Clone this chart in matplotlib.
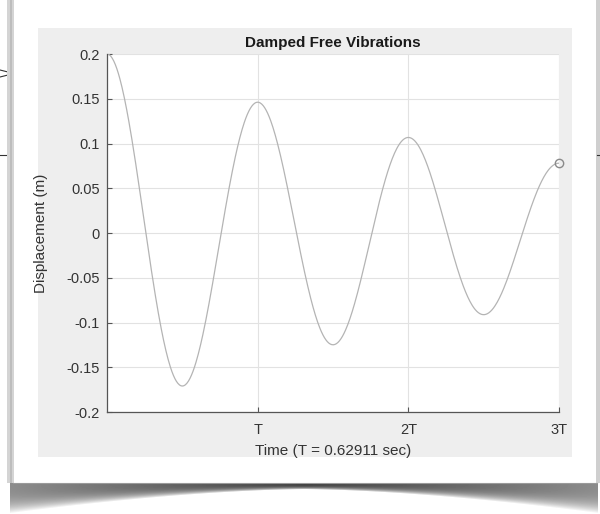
import numpy as np
import matplotlib
matplotlib.use("Agg")
import matplotlib.pyplot as plt
from matplotlib.patches import Rectangle

plt.rcParams["font.family"] = ["Liberation Sans", "DejaVu Sans"]

# values
period = 0.62911                      # T (sec), from the x label
x0 = 0.2                              # initial displacement (m)
peak_values = [0.2, 0.145, 0.106, 0.078]   # maxima at 0, T, 2T, 3T
y_ticks = [-0.2, -0.15, -0.1, -0.05, 0, 0.05, 0.1, 0.15, 0.2]
y_tick_labels = ["-0.2", "-0.15", "-0.1", "-0.05", "0", "0.05", "0.1", "0.15", "0.2"]
x_tick_mult = [1, 2, 3]
x_tick_labels = ["T", "2T", "3T"]

# damped free response: decay per period taken from the read peaks
ratio = (peak_values[-1] / peak_values[0]) ** (1 / (len(peak_values) - 1))
delta = np.log(1 / ratio)
zeta = delta / np.sqrt(4 * np.pi ** 2 + delta ** 2)
wd = 2 * np.pi / period
wn = wd / np.sqrt(1 - zeta ** 2)
t = np.linspace(0, 3 * period, 600)
x = x0 * np.exp(-zeta * wn * t) * (np.cos(wd * t) + zeta * wn / wd * np.sin(wd * t))

W, H = 600, 514
fig = plt.figure(figsize=(W / 100, H / 100), dpi=100)
fig.patch.set_facecolor("white")

# background: paper, shadow and the grey figure panel (pixel coords)
bg = fig.add_axes([0, 0, 1, 1], zorder=-1)
bg.set_xlim(0, W)
bg.set_ylim(H, 0)
bg.axis("off")

# curled-paper shadow under the sheet
sx0, sx1, sy0 = 10, 598, 483
cols = np.arange(sx0, sx1)
rows = np.arange(0, H - sy0)
s = np.abs((cols - sx0) / (sx1 - sx0) - 0.5) * 2
thick = 6 + 24 * s ** 1.6
gray = 0.25 + 0.30 * s
dd = rows[:, None] / thick[None, :]
img = np.where(dd < 1, gray[None, :] + (1 - gray[None, :]) * np.clip(dd, 0, 1) ** 3, 1.0)
bg.imshow(img, cmap="gray", vmin=0, vmax=1, extent=(sx0, sx1, H, sy0),
          aspect="auto", interpolation="bilinear", zorder=0)

# paper sheet and its edges
bg.add_patch(Rectangle((13, 0), 584, sy0, facecolor="white", edgecolor="none", zorder=1))
bg.add_patch(Rectangle((7, 0), 7, sy0, facecolor="#d4d4d4", edgecolor="none", zorder=1))
bg.add_patch(Rectangle((9.5, 0), 2.5, sy0, facecolor="#bdbdbd", edgecolor="none", zorder=1))
bg.add_patch(Rectangle((596, 0), 4, sy0, facecolor="#cfcfcf", edgecolor="none", zorder=1))
bg.plot([13, 597], [sy0, sy0], color="#9a9a9a", lw=0.8, zorder=2)

# bits of diagram lines poking out from behind the sheet
bg.plot([0, 14], [70, 73.5], color="#333333", lw=0.8, zorder=0.5)
bg.plot([0, 14], [77, 73.5], color="#333333", lw=0.8, zorder=0.5)
bg.plot([0, 14], [155, 155], color="#333333", lw=0.8, zorder=0.5)
bg.plot([597, 600], [154.5, 154.5], color="#333333", lw=0.8, zorder=2)

# grey MATLAB figure panel
bg.add_patch(Rectangle((38, 28), 534, 429, facecolor="#eeeeee", edgecolor="none", zorder=3))

# main axes
ax = fig.add_axes([107 / W, 1 - 412 / H, 452 / W, 358 / H])
ax.set_facecolor("white")
ax.plot(t, x, color="#b4b4b4", lw=0.9)
ax.plot(t[-1], x[-1], "o", ms=6, mfc="none", mec="#8a8a8a", mew=1.0, clip_on=False)

ax.set_xlim(0, 3 * period)
ax.set_ylim(-0.2, 0.2)
ax.set_xticks([m * period for m in x_tick_mult])
ax.set_xticklabels(x_tick_labels)
ax.set_yticks(y_ticks)
ax.set_yticklabels(y_tick_labels)
ax.grid(True, color="#e2e2e2", lw=0.8)
ax.set_axisbelow(True)
for side in ["top", "right"]:
    ax.spines[side].set_visible(False)
for side in ["left", "bottom"]:
    ax.spines[side].set_color("#555555")
    ax.spines[side].set_linewidth(0.9)
ax.tick_params(direction="in", length=3.5, width=0.8, color="#555555",
               labelsize=10.5, labelcolor="#333333")
ax.tick_params(axis="x", pad=8)
ax.tick_params(axis="y", pad=5)

ax.set_title("Damped Free Vibrations", fontsize=11, fontweight="bold",
             color="#1a1a1a", pad=5)
ax.set_xlabel("Time (T = 0.62911 sec)", fontsize=11, color="#333333")
ax.set_ylabel("Displacement (m)", fontsize=11, color="#333333")
ax.xaxis.set_label_coords(0.5, -0.088)
ax.yaxis.set_label_coords(-0.13, 0.5)

fig.savefig("out.png", dpi=100)
